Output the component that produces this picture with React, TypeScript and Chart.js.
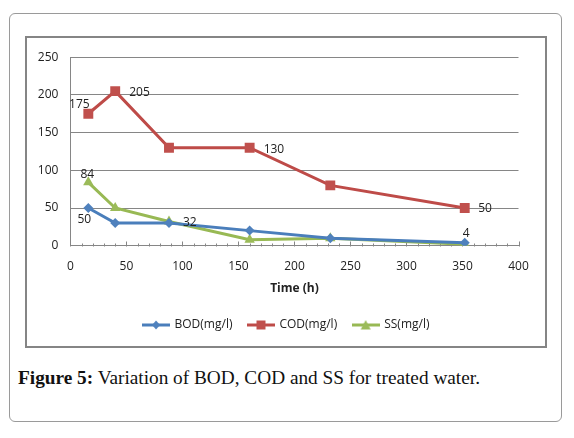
import React, { useEffect, useRef } from 'react';
import { Chart, registerables } from 'chart.js';

Chart.register(...registerables);

// ---- data ----
const timeHours = [16, 40, 88, 160, 232, 352];
const bodValues = [50, 30, 30, 20, 10, 4];
const codValues = [175, 205, 130, 130, 80, 50];
const ssValues = [84, 50, 32, 8, 10, 2];
const seriesNames = ['BOD(mg/l)', 'COD(mg/l)', 'SS(mg/l)'];
const xAxisTitle = 'Time (h)';
const captionBold = 'Figure 5:';
const captionText = ' Variation of BOD, COD and SS for treated water.';

// value labels: dataset index, point index, text, placement
const valueLabels = [
  { ds: 1, i: 0, text: '175', align: 'center', dx: -9, dy: -9 },
  { ds: 1, i: 1, text: '205', align: 'left', dx: 14, dy: 1 },
  { ds: 1, i: 3, text: '130', align: 'left', dx: 14, dy: 1.5 },
  { ds: 1, i: 5, text: '50', align: 'left', dx: 13.5, dy: 1 },
  { ds: 2, i: 0, text: '84', align: 'center', dx: -1, dy: -8 },
  { ds: 0, i: 0, text: '50', align: 'center', dx: -4, dy: 12 },
  { ds: 2, i: 2, text: '32', align: 'left', dx: 14, dy: 1.5 },
  { ds: 0, i: 5, text: '4', align: 'center', dx: 1.5, dy: -9 },
];

const FONT = '"Open Sans", sans-serif';
const TEXT = '#222222';
const GRID = '#868686';
const BLUE_LINE = '#4A7EBB';
const BLUE_MK = '#4F81BD';
const RED_LINE = '#BE4B48';
const RED_MK = '#C0504D';
const GREEN_LINE = '#98B954';
const GREEN_MK = '#9BBB59';

function makeLegendImage(line: string, mk: string, style: string) {
  const c = document.createElement('canvas');
  c.width = 28;
  c.height = 12;
  const g = c.getContext('2d')!;
  g.strokeStyle = line;
  g.lineWidth = 3;
  g.beginPath();
  g.moveTo(0, 6);
  g.lineTo(28, 6);
  g.stroke();
  g.fillStyle = mk;
  g.beginPath();
  if (style === 'diamond') {
    g.moveTo(14, 1.5);
    g.lineTo(18, 6);
    g.lineTo(14, 10.5);
    g.lineTo(10, 6);
  } else if (style === 'square') {
    g.rect(9.5, 1.5, 9, 9);
  } else {
    g.moveTo(14, 1);
    g.lineTo(19, 10.5);
    g.lineTo(9, 10.5);
  }
  g.closePath();
  g.fill();
  return c;
}

const minorTicksPlugin = {
  id: 'minorTicks',
  beforeDatasetsDraw(chart: any) {
    const xs = chart.scales.x;
    const ys = chart.scales.y;
    const ctx = chart.ctx;
    const y0 = Math.round(ys.getPixelForValue(0)) + 0.5;
    ctx.save();
    ctx.strokeStyle = GRID;
    ctx.lineWidth = 1;
    for (let v = xs.min; v <= xs.max; v += 10) {
      const px = Math.round(xs.getPixelForValue(v)) + 0.5;
      const len = v % 50 === 0 ? 5 : 3;
      ctx.beginPath();
      ctx.moveTo(px, y0);
      ctx.lineTo(px, y0 - len);
      ctx.stroke();
    }
    ctx.restore();
  },
};

const valueLabelPlugin = {
  id: 'valueLabels',
  afterDatasetsDraw(chart: any) {
    const ctx = chart.ctx;
    ctx.save();
    ctx.font = `12px ${FONT}`;
    ctx.fillStyle = TEXT;
    ctx.textBaseline = 'middle';
    for (const l of valueLabels) {
      const el = chart.getDatasetMeta(l.ds).data[l.i];
      if (!el) continue;
      ctx.textAlign = l.align;
      ctx.fillText(l.text, el.x + l.dx, el.y + l.dy);
    }
    ctx.restore();
  },
};

// shifts the legend row to sit where the original one sits (slightly right of centre)
const legendShiftPlugin = {
  id: 'legendShift',
  afterLayout(chart: any) {
    const lg = chart.legend;
    if (!lg) return;
    lg.left += 13.75;
    lg.right += 13.75;
  },
};

function toPoints(vals: number[]) {
  return vals.map((v, i) => ({ x: timeHours[i], y: v }));
}

function ChartCanvas() {
  const ref = useRef<HTMLCanvasElement | null>(null);
  useEffect(() => {
    if (!ref.current) return;
    const legendImgs = [
      makeLegendImage(BLUE_LINE, BLUE_MK, 'diamond'),
      makeLegendImage(RED_LINE, RED_MK, 'square'),
      makeLegendImage(GREEN_LINE, GREEN_MK, 'triangle'),
    ];
    const chart = new Chart(ref.current, {
      type: 'line',
      data: {
        datasets: [
          {
            label: seriesNames[0],
            data: toPoints(bodValues),
            borderColor: BLUE_LINE,
            backgroundColor: BLUE_MK,
            pointBorderColor: BLUE_MK,
            borderWidth: 3,
            pointStyle: 'rectRot',
            pointRadius: 5,
            pointBorderWidth: 0,
            fill: false,
            tension: 0,
          },
          {
            label: seriesNames[1],
            data: toPoints(codValues),
            borderColor: RED_LINE,
            backgroundColor: RED_MK,
            pointBorderColor: RED_MK,
            borderWidth: 3,
            pointStyle: 'rect',
            pointRadius: 7,
            pointBorderWidth: 0,
            fill: false,
            tension: 0,
          },
          {
            label: seriesNames[2],
            data: toPoints(ssValues),
            borderColor: GREEN_LINE,
            backgroundColor: GREEN_MK,
            pointBorderColor: GREEN_MK,
            borderWidth: 3,
            pointStyle: 'triangle',
            pointRadius: 6,
            pointBorderWidth: 0,
            fill: false,
            tension: 0,
          },
        ],
      },
      options: {
        animation: false,
        responsive: false,
        events: [],
        layout: { padding: { left: 0, right: 26.5, top: 13.7, bottom: 5 } },
        scales: {
          x: {
            type: 'linear',
            min: 0,
            max: 400,
            ticks: { stepSize: 50, padding: 6, color: TEXT, font: { family: FONT, size: 12 } },
            grid: { display: false },
            border: { display: true, color: GRID, width: 1 },
            title: {
              display: true,
              text: xAxisTitle,
              color: TEXT,
              font: { family: FONT, size: 12, weight: 'bold' },
              padding: { top: 4, bottom: 7.5 },
            },
            afterFit: (s: any) => {
              s.height = 57.3;
            },
          },
          y: {
            min: 0,
            max: 250,
            ticks: { stepSize: 50, padding: 12, color: TEXT, font: { family: FONT, size: 12 } },
            grid: { color: GRID, lineWidth: 1, drawTicks: false },
            border: { display: true, color: GRID, width: 1 },
            afterFit: (s: any) => {
              s.width = 43.4;
            },
          },
        },
        plugins: {
          tooltip: { enabled: false },
          legend: {
            position: 'bottom',
            labels: {
              usePointStyle: true,
              pointStyleWidth: 25,
              padding: 16,
              color: TEXT,
              font: { family: FONT, size: 12 },
              generateLabels: (c: any) => {
                const items = (Chart as any).defaults.plugins.legend.labels.generateLabels(c);
                items.forEach((it: any, i: number) => {
                  it.pointStyle = legendImgs[i];
                });
                return items;
              },
            },
          },
        },
      },
      plugins: [minorTicksPlugin, valueLabelPlugin, legendShiftPlugin],
    } as any);
    return () => chart.destroy();
  }, []);
  return <canvas ref={ref} width={518} height={308} style={{ display: 'block', width: 518, height: 308 }} />;
}

export default function App() {
  return (
    <div style={{ position: 'absolute', left: 0, top: 0, width: 574, height: 438, background: '#fff' }}>
      <div
        style={{
          position: 'absolute',
          left: 9,
          top: 13,
          width: 553,
          height: 409,
          boxSizing: 'border-box',
          border: '1px solid #9a9a9a',
          borderRadius: 6,
        }}
      />
      <div
        style={{
          position: 'absolute',
          left: 25,
          top: 36,
          width: 522,
          height: 312,
          boxSizing: 'border-box',
          border: '2px solid #858585',
        }}
      >
        <ChartCanvas />
      </div>
      <div
        style={{
          position: 'absolute',
          left: 18,
          top: 367,
          fontFamily: '"Liberation Serif", serif',
          fontSize: 19.3,
          lineHeight: '22px',
          color: '#111',
          whiteSpace: 'nowrap',
        }}
      >
        <b>{captionBold}</b>
        {captionText}
      </div>
    </div>
  );
}
